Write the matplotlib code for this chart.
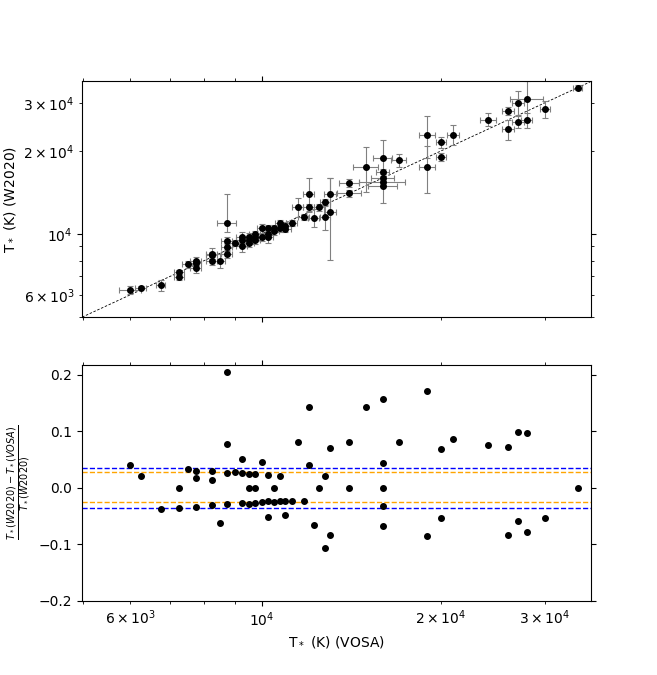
import numpy as np
import matplotlib
matplotlib.use("Agg")
import matplotlib.pyplot as plt

# temperatures (K)
t_vosa = [6000, 6250, 6750, 7240, 7240, 7500, 7740, 7740, 7740, 8230,
          8230, 8230, 8490, 8720, 8720, 8720, 8720, 9000, 9250, 9250,
          9250, 9500, 9500, 9500, 9720, 9720, 9720, 10000, 10000, 10240,
          10240, 10240, 10480, 10480, 10750, 10750, 10960, 10960, 11230, 11500,
          11770, 12000, 12000, 12230, 12480, 12770, 12770, 13020, 13020, 14040,
          14040, 14970, 16000, 16000, 16000, 16000, 16000, 17020, 18970, 18970,
          20030, 20030, 20985, 24040, 25980, 25980, 27010, 27010, 27970, 27970,
          29990, 34060]
t_w2020 = [6250, 6380, 6500, 7240, 6990, 7750, 7980, 7870, 7490, 8480,
           8350, 7980, 7990, 10960, 9460, 8960, 8470, 9250, 9750, 9490,
           9000, 9740, 9500, 9240, 9970, 9720, 9470, 10480, 9750, 10480,
           10000, 9740, 10480, 10230, 10980, 10500, 10710, 10460, 10980, 12500,
           11500, 13990, 12500, 11470, 12480, 13030, 11530, 14010, 12020, 15290,
           14040, 17450, 18960, 16740, 16000, 15500, 14990, 18500, 22910, 17480,
           21510, 19020, 22980, 26020, 27980, 23990, 29990, 25520, 30940, 25940,
           28480, 34060]
err_vosa = [250, 125, 110, 140, 140, 150, 160, 160, 160, 170,
            170, 170, 170, 330, 180, 180, 180, 180, 200, 200,
            200, 200, 200, 200, 200, 200, 200, 200, 200, 200,
            200, 200, 200, 200, 220, 220, 220, 220, 230, 250,
            250, 250, 250, 250, 260, 260, 260, 300, 300, 560,
            640, 700, 600, 400, 700, 1400, 900, 500, 600, 600,
            400, 400, 500, 750, 600, 600, 600, 600, 1800, 600,
            600, 600]
err_w_lo = [190, 100, 290, 170, 170, 250, 260, 200, 260, 400,
            250, 250, 480, 800, 300, 300, 300, 250, 400, 300,
            400, 300, 300, 300, 300, 300, 300, 400, 300, 300,
            300, 500, 300, 300, 300, 300, 300, 300, 300, 1000,
            300, 2000, 400, 900, 400, 400, 1200, 2000, 4000, 500,
            400, 3200, 3000, 500, 500, 500, 2000, 1000, 4000, 3400,
            1000, 600, 2000, 1400, 1000, 2000, 3000, 1300, 5000, 1600,
            2000, 700]
err_w_hi = list(err_w_lo)
err_w_hi[13] = 3000

# reference levels in the residual panel
blue_lev = [0.0355, -0.0355]
orange_lev = [0.0284, -0.0261]

v = np.array(t_vosa, dtype=float)
w = np.array(t_w2020, dtype=float)
resid = (w - v) / w

fig, (ax1, ax2) = plt.subplots(2, 1, figsize=(6.57, 6.75), sharex=True)

lims = (4980, 35900)
ax1.plot(lims, lims, 'k--', lw=0.6, dashes=(3, 2))
ax1.errorbar(v, w, xerr=err_vosa, yerr=[err_w_lo, err_w_hi], fmt='o',
             color='k', ms=4, ecolor='gray', elinewidth=0.8, capsize=2,
             capthick=0.8)
ax1.set_xscale('log')
ax1.set_yscale('log')
ax1.set_xlim(lims)
ax1.set_ylim(4975, 36000)
ax1.set_ylabel('T$_*$ (K) (W2020)')

for lev in blue_lev:
    ax2.axhline(lev, color='blue', ls='--', lw=1)
for lev in orange_lev:
    ax2.axhline(lev, color='orange', ls='--', lw=1)
ax2.plot(v, resid, 'o', color='k', ms=4)
ax2.set_xscale('log')
ax2.set_xlim(lims)
ax2.set_ylim(-0.2, 0.218)
ax2.set_yticks([-0.2, -0.1, 0.0, 0.1, 0.2])
ax2.set_xlabel('T$_*$ (K) (VOSA)')
ax2.set_ylabel(r'$\frac{T_*(W2020) - T_*(VOSA)}{T_*(W2020)}$')

for ax in (ax1, ax2):
    ax.tick_params(which='both', top=True, right=True)

fig.savefig('out.png', dpi=100)
